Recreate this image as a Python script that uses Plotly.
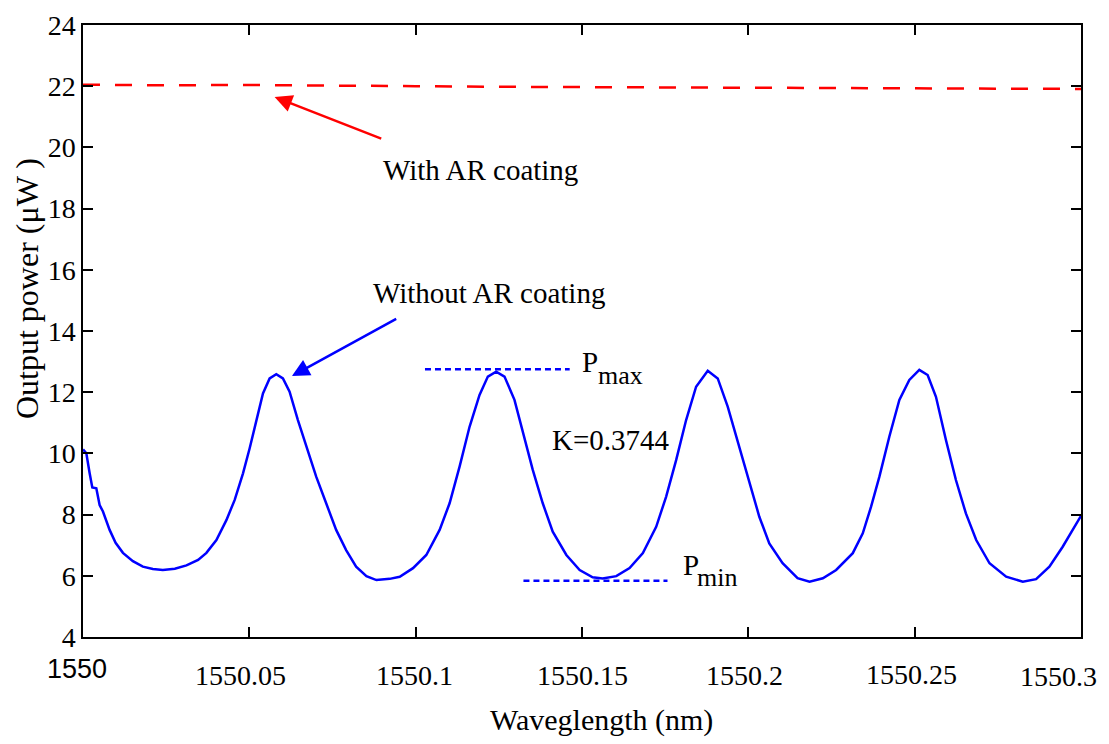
import plotly.graph_objects as go

# ---- data ----
wl_no_ar = [1550.0000, 1550.0010, 1550.0020, 1550.0028, 1550.0040, 1550.0050, 1550.0060, 1550.0080,
            1550.0098, 1550.0120, 1550.0150, 1550.0180, 1550.0210, 1550.0240, 1550.0276, 1550.0311,
            1550.0346, 1550.0371, 1550.0401, 1550.0431, 1550.0456, 1550.0481, 1550.0501, 1550.0521,
            1550.0541, 1550.0561, 1550.0581, 1550.0601, 1550.0621, 1550.0646, 1550.0671, 1550.0701,
            1550.0731, 1550.0761, 1550.0791, 1550.0821, 1550.0852, 1550.0882, 1550.0922, 1550.0952,
            1550.0992, 1550.1032, 1550.1072, 1550.1102, 1550.1132, 1550.1162, 1550.1192, 1550.1217,
            1550.1242, 1550.1267, 1550.1297, 1550.1327, 1550.1352, 1550.1382, 1550.1412, 1550.1453,
            1550.1493, 1550.1532, 1550.1562, 1550.1603, 1550.1643, 1550.1683, 1550.1723, 1550.1753,
            1550.1783, 1550.1813, 1550.1843, 1550.1878, 1550.1908, 1550.1938, 1550.1973, 1550.2003,
            1550.2033, 1550.2063, 1550.2103, 1550.2148, 1550.2184, 1550.2224, 1550.2264, 1550.2314,
            1550.2344, 1550.2369, 1550.2394, 1550.2424, 1550.2454, 1550.2484, 1550.2514, 1550.2539,
            1550.2564, 1550.2594, 1550.2624, 1550.2654, 1550.2685, 1550.2725, 1550.2775, 1550.2825,
            1550.2865, 1550.2905, 1550.2945, 1550.2975, 1550.3000]
power_no_ar = [10.13, 10.00, 9.35, 8.89, 8.86, 8.31, 8.10, 7.50,
               7.08, 6.75, 6.48, 6.30, 6.22, 6.19, 6.23, 6.34,
               6.52, 6.75, 7.17, 7.82, 8.48, 9.35, 10.17, 11.09,
               11.96, 12.45, 12.59, 12.45, 12.02, 11.09, 10.22, 9.24,
               8.37, 7.50, 6.84, 6.30, 5.99, 5.86, 5.90, 5.97,
               6.25, 6.68, 7.50, 8.37, 9.57, 10.87, 11.91, 12.51,
               12.67, 12.51, 11.75, 10.55, 9.46, 8.37, 7.44, 6.68,
               6.19, 5.95, 5.91, 5.99, 6.25, 6.74, 7.60, 8.59,
               9.78, 11.09, 12.18, 12.70, 12.45, 11.53, 10.22, 9.02,
               7.93, 7.06, 6.41, 5.92, 5.81, 5.92, 6.19, 6.74,
               7.39, 8.26, 9.24, 10.55, 11.75, 12.40, 12.73, 12.56,
               11.85, 10.44, 9.13, 8.04, 7.17, 6.41, 5.97, 5.81,
               5.89, 6.30, 6.95, 7.50, 7.96]

wl_ar = [1550.000, 1550.025, 1550.050, 1550.075, 1550.100, 1550.125, 1550.150,
         1550.175, 1550.200, 1550.225, 1550.250, 1550.275, 1550.300]
power_ar = [22.05, 22.03, 22.04, 22.01, 22.00, 21.98, 21.97,
            21.96, 21.95, 21.95, 21.93, 21.93, 21.91]

pmax_x = [1550.1028, 1550.1463]
pmax_y = [12.75, 12.75]
pmin_x = [1550.1324, 1550.1757]
pmin_y = [5.84, 5.84]

x_tickvals = [1550, 1550.05, 1550.1, 1550.15, 1550.2, 1550.25, 1550.3]
x_ticktext = ["1550", "1550.05", "1550.1", "1550.15", "1550.2", "1550.25", "1550.3"]
y_tickvals = [4, 6, 8, 10, 12, 14, 16, 18, 20, 22, 24]

# small horizontal / vertical offsets of the x tick labels as placed in the reference (px)
x_label_dx = [-6, -9, -1, 0, -4, -3, -23]
x_label_dy = [-32, -38, -38, -38, -38, -37, -39]

SERIF = "Times New Roman"
SANS = "Arial"
FS = 28

fig = go.Figure()
fig.add_trace(go.Scatter(x=wl_ar, y=power_ar, mode="lines",
                         line=dict(color="#FF0000", width=2.5, dash="17px,15px"),
                         showlegend=False))
fig.add_trace(go.Scatter(x=wl_no_ar, y=power_no_ar, mode="lines",
                         line=dict(color="#0000FF", width=2.5),
                         showlegend=False))
fig.add_trace(go.Scatter(x=pmax_x, y=pmax_y, mode="lines",
                         line=dict(color="#0000FF", width=2.5, dash="6px,4px"), showlegend=False))
fig.add_trace(go.Scatter(x=pmin_x, y=pmin_y, mode="lines",
                         line=dict(color="#0000FF", width=2.5, dash="6px,4px"), showlegend=False))

ann = []
# arrows
ann.append(dict(x=1550.0576, y=21.65, ax=1550.0901, ay=20.27, xref="x", yref="y", axref="x", ayref="y",
                text="", showarrow=True, arrowhead=2, arrowsize=1.4, arrowwidth=2.5, arrowcolor="#FF0000"))
ann.append(dict(x=1550.0628, y=12.53, ax=1550.0946, ay=14.42, xref="x", yref="y", axref="x", ayref="y",
                text="", showarrow=True, arrowhead=2, arrowsize=1.4, arrowwidth=2.5, arrowcolor="#0000FF"))

def txt(x, y, t, size=29, xanchor="center", family=SERIF, xref="x", yref="y", angle=0,
        xshift=0, yshift=0):
    return dict(x=x, y=y, text=t, showarrow=False, xref=xref, yref=yref, xanchor=xanchor, yanchor="middle",
                textangle=angle, xshift=xshift, yshift=yshift,
                font=dict(family=family, size=size, color="black"))

ann.append(txt(1550.1194, 19.25, "With AR coating"))
ann.append(txt(1550.1221, 15.25, "Without AR coating"))
ann.append(txt(1550.1587, 10.44, "K=0.3744"))
ann.append(txt(1550.1494, 13.0, "P", size=29, xanchor="left"))
ann.append(txt(1550.1542, 12.55, "max", size=26, xanchor="left"))
ann.append(txt(1550.1797, 6.35, "P", size=29, xanchor="left"))
ann.append(txt(1550.1841, 5.95, "min", size=26, xanchor="left"))

# x tick labels (first one is in a sans font in the reference)
for i, (tv, tt) in enumerate(zip(x_tickvals, x_ticktext)):
    fam = SANS if i == 0 else SERIF
    size = 27 if i == 0 else FS
    ann.append(txt(tv, 0, tt, size=size, family=fam, xref="x", yref="paper",
                   xshift=x_label_dx[i], yshift=x_label_dy[i]))

# axis titles
ann.append(txt(0.52, -0.136, "Waveglength (nm)", size=30, xref="paper", yref="paper"))
ann.append(txt(-0.0561, 0.5686, "Output power (μW )", size=32, xref="paper", yref="paper", angle=-90))

fig.update_layout(
    width=1109, height=744,
    margin=dict(l=75, r=36, t=17, b=115),
    paper_bgcolor="white", plot_bgcolor="white",
    annotations=ann,
    xaxis=dict(range=[1550, 1550.3], tickvals=x_tickvals, showticklabels=False, automargin=False,
               showline=True, linecolor="black", linewidth=1.5, mirror="ticks",
               ticks="inside", ticklen=10, tickwidth=1.5, tickcolor="black",
               showgrid=False, zeroline=False),
    yaxis=dict(range=[4, 24], tickvals=y_tickvals, automargin=False,
               showline=True, linecolor="black", linewidth=1.5, mirror="ticks",
               ticks="inside", ticklen=10, tickwidth=1.5, tickcolor="black",
               showgrid=False, zeroline=False,
               tickfont=dict(family=SERIF, size=FS, color="black")),
)

fig.write_html("out.html")
